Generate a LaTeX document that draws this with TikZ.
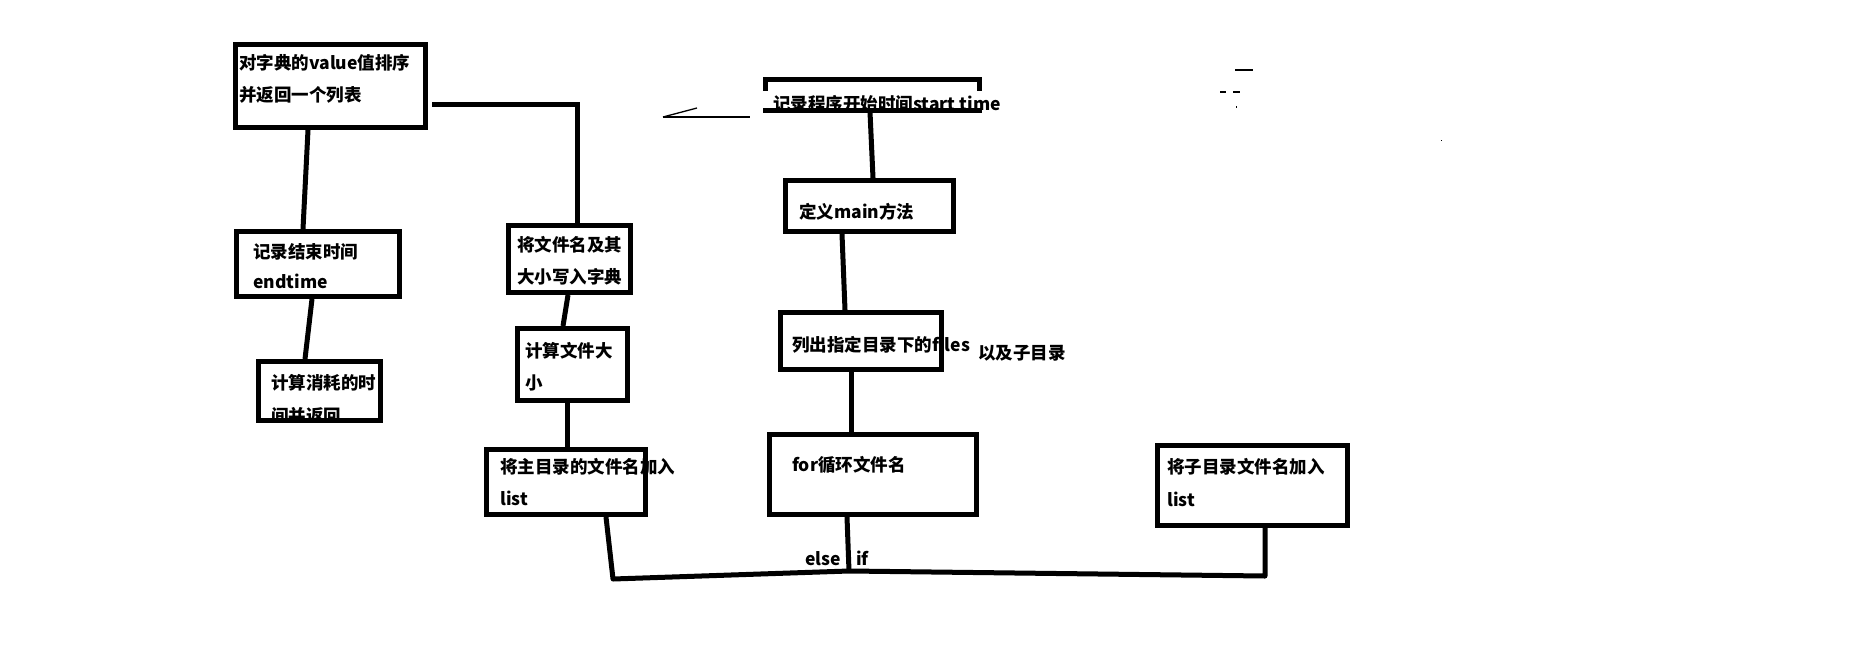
\documentclass[tikz,border=0pt]{standalone}
\usepackage{fontspec}
\newfontfamily\cjk{Noto Sans CJK SC}
\newcommand\mkbox[5]{\node[box, minimum width={#4-#2-5}, minimum height={#5-#3-5}] (#1) at ({(#2+#4)/2},{(#3+#5)/2}) {};}
\begin{document}
\begin{tikzpicture}[x=1pt,y=-1pt,
  box/.style={draw, line width=5pt, inner sep=0pt, outer sep=2.5pt},
  txt/.style={anchor=base west, inner sep=0pt, font=\cjk\bfseries\fontsize{17.5}{20}\selectfont},
  conn/.style={line width=5pt},
  stray/.style={line width=1.3pt}]
\fill[white] (0,0) rectangle (1857,648);
\useasboundingbox (0,0) rectangle (1857,648);

% ---- texts (drawn first, borders go over them)
\node[txt] (t1a) at (239,69) {对字典的value值排序};
\node[txt] (t1b) at (239,101.5) {并返回一个列表};
\node[txt] (t2a) at (253,258) {记录结束时间};
\node[txt] (t2b) at (253,288) {endtime};
\begin{scope}
  \clip (261,364) rectangle (378,418);
  \node[txt] (t3a) at (271,389) {计算消耗的时};
  \node[txt] (t3b) at (271,422) {间并返回};
\end{scope}
\node[txt] (t4a) at (517,251.5) {将文件名及其};
\node[txt] (t4b) at (517,283.5) {大小写入字典};
\node[txt] (t5a) at (525,357) {计算文件大};
\node[txt] (t5b) at (525,389) {小};
\node[txt] (t6a) at (500,473) {将主目录的文件名加入};
\node[txt] (t6b) at (500,505) {list};
\node[txt] (t8) at (799,218) {定义main方法};
\node[txt] (t9a) at (792,351.5) {列出指定目录下的files};
\node[txt] (t9b) at (978,359) {以及子目录};
\node[txt] (t10) at (792,471) {for循环文件名};
\node[txt] (t11a) at (1167,473) {将子目录文件名加入};
\node[txt] (t11b) at (1167,506) {list};
\node[txt] (telse) at (805,565) {else};
\node[txt] (tif) at (856,565) {if};

% ---- boxes
\mkbox{b1}{233}{42}{428}{130}
\mkbox{b2}{234}{229}{402}{299}
\mkbox{b3}{256}{359}{383}{423}
\mkbox{b4}{506}{223}{633}{295}
\mkbox{b5}{515}{326}{630}{403}
\mkbox{b6}{484}{447}{648}{517}
\mkbox{b8}{783}{178}{956}{234}
\mkbox{b9}{778}{310}{944}{372}
\mkbox{b10}{767}{432}{979}{517}
\mkbox{b11}{1155}{443}{1350}{528}

% start box: border partly hidden by the text background
\mkbox{b7}{763}{77}{982}{112}
\node[txt, fill=white, inner xsep=10pt, inner ysep=4pt] (t7) at (763,110) {记录程序开始时间start time};
\draw[conn] ([yshift=1.5pt]b7.south west) -- ([yshift=1.5pt]b7.south east);

% ---- connectors
\draw[conn] ([shift={(4,18)}]b1.east) -| ([xshift=8pt]b4.north);
\draw[conn] ([xshift=75pt]b1.south west) -- ([xshift=69pt]b2.north west);
\draw[conn] ([xshift=78pt]b2.south west) -- ([xshift=49pt]b3.north west);
\draw[conn] ([xshift=62pt]b4.south west) -- ([xshift=48pt]b5.north west);
\draw[conn] ([xshift=52pt]b5.south west) -- ([xshift=83pt]b6.north west);
\draw[conn] ([xshift=107pt]b7.south west) -- ([xshift=90pt]b8.north west);
\draw[conn] ([xshift=59pt]b8.south west) -- ([xshift=67pt]b9.north west);
\draw[conn] ([xshift=73pt]b9.south west) -- ([xshift=84pt]b10.north west);
\coordinate (cl) at (613,579);
\coordinate (j) at (849,571);
\coordinate (cr) at (1265,576);
\draw[conn, line join=round] ([xshift=122pt]b6.south west) -- (cl) -- (j) -- (cr) -- ([xshift=110pt]b11.south west);
\draw[conn] ([xshift=80pt]b10.south west) -- (j);

% ---- stray marks
\draw[stray] (663,117) -- (750,117);
\draw[stray] (663,117) -- (697,108);
\draw[stray] (1235,70) -- (1253,70);
\draw[stray] (1220,92) -- (1226,92);
\draw[stray] (1233,92) -- (1240,92);
\fill (1235.5,106) rectangle (1237,108);
\fill (1440.5,139.5) rectangle (1441.5,140.5);
\end{tikzpicture}
\end{document}
